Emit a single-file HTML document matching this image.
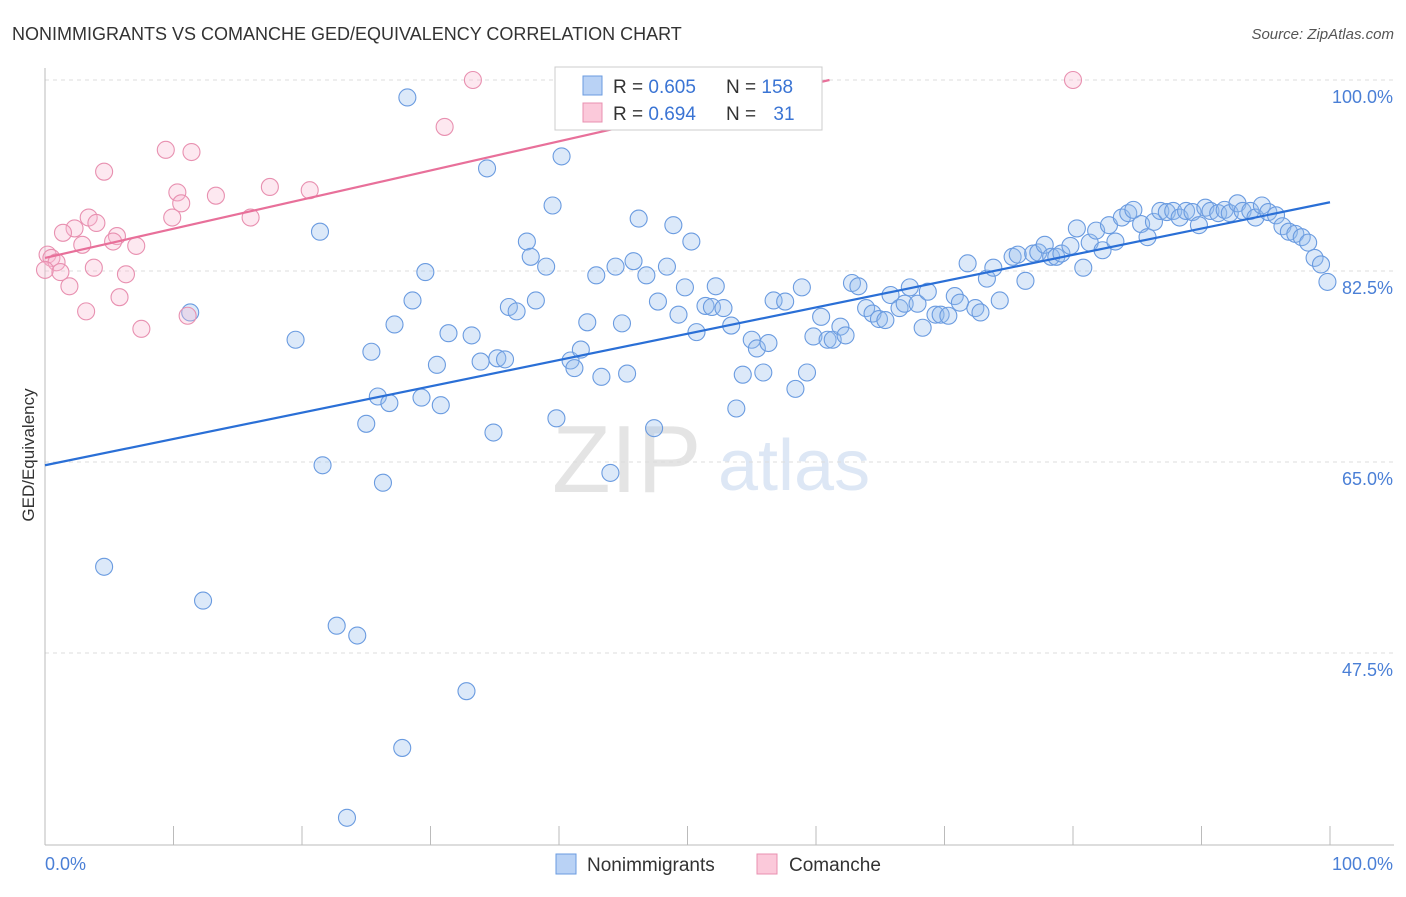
<!DOCTYPE html>
<html><head><meta charset="utf-8"><style>
body{margin:0;background:#fff;font-family:"Liberation Sans",sans-serif;}
svg text{font-family:"Liberation Sans",sans-serif;}
</style></head><body>
<svg id="chart" width="1406" height="892">
<text x="12" y="40" font-size="18" fill="#333">NONIMMIGRANTS VS COMANCHE GED/EQUIVALENCY CORRELATION CHART</text>
<text x="1394" y="39" font-size="15" fill="#555" text-anchor="end" font-style="italic">Source: ZipAtlas.com</text>
<g>
<text x="552" y="492" font-size="96" fill="#e4e4e4" font-family="Liberation Serif">ZIP</text>
<text x="718" y="490" font-size="72" fill="#dde7f5">atlas</text>
</g>
<g id="grid"></g><g id="axes"></g><g id="pts"></g><g id="lines"></g>
<g>
<rect x="555" y="67" width="267" height="63" fill="#fff" stroke="#ccc"/>
<rect x="583" y="76" width="19" height="19" fill="#b9d2f5" stroke="#6a9be0"/>
<rect x="583" y="103" width="19" height="19" fill="#fbc9da" stroke="#e890b0"/>
<text x="613" y="93" font-size="19" fill="#333">R = <tspan fill="#3a74d4">0.605</tspan></text>
<text x="726" y="93" font-size="19" fill="#333">N = <tspan fill="#3a74d4">158</tspan></text>
<text x="613" y="120" font-size="19" fill="#333">R = <tspan fill="#3a74d4">0.694</tspan></text>
<text x="726" y="120" font-size="19" fill="#333">N = <tspan fill="#3a74d4" dx="12">31</tspan></text>
</g>
<g>
<rect x="556" y="854" width="20" height="20" fill="#b9d2f5" stroke="#6a9be0"/>
<text x="587" y="871" font-size="19" fill="#333">Nonimmigrants</text>
<rect x="757" y="854" width="20" height="20" fill="#fbc9da" stroke="#e890b0"/>
<text x="789" y="871" font-size="19" fill="#333">Comanche</text>
</g>
<text transform="translate(34,455) rotate(-90)" font-size="17" fill="#333" text-anchor="middle">GED/Equivalency</text>
</svg>
<script>
const blueX=[28.2,34.4,40.2,39.5,21.4,37.5,37.8,39.0,29.6,42.9,44.4,45.8,46.8,48.4,46.2,48.9,50.3,49.8,52.2,28.6,36.1,36.7,38.2,42.2,44.9,47.7,49.3,50.7,51.4,51.9,52.8,53.4,19.5,25.4,27.2,31.4,33.2,30.5,33.9,35.2,35.8,40.9,41.2,41.7,43.3,45.3,25.9,26.8,29.3,30.8,34.9,39.8,47.4,25.0,21.6,26.3,44.0,53.8,54.3,55.9,55.0,55.4,56.3,56.7,57.6,58.9,58.4,59.3,59.8,60.4,60.9,61.3,61.9,62.3,62.8,63.3,63.9,64.4,64.9,65.4,65.8,66.5,66.9,67.3,67.9,68.3,68.7,69.3,69.7,70.3,70.8,71.2,71.8,72.4,72.8,73.3,73.8,74.3,75.3,75.7,76.3,76.9,77.3,77.8,78.3,78.7,79.1,79.8,80.3,80.8,81.3,81.8,82.3,82.8,83.3,83.8,84.3,84.7,85.3,85.8,86.3,86.8,87.3,87.8,88.3,88.8,89.3,89.8,90.3,90.7,91.3,91.8,92.2,92.8,93.2,93.8,94.2,94.7,95.2,95.8,96.3,96.8,97.3,97.8,98.3,98.8,99.3,99.8,11.3,4.6,12.3,22.7,24.3,32.8,27.8,23.5];
const blueY=[98.4,91.9,93.0,88.5,86.1,85.2,83.8,82.9,82.4,82.1,82.9,83.4,82.1,82.9,87.3,86.7,85.2,81.0,81.1,79.8,79.2,78.8,79.8,77.8,77.7,79.7,78.5,76.9,79.3,79.2,79.1,77.5,76.2,75.1,77.6,76.8,76.6,73.9,74.2,74.5,74.4,74.3,73.6,75.3,72.8,73.1,71.0,70.4,70.9,70.2,67.7,69.0,68.1,68.5,64.7,63.1,64.0,69.9,73.0,73.2,76.2,75.4,75.9,79.8,79.7,81.0,71.7,73.2,76.5,78.3,76.2,76.2,77.4,76.6,81.4,81.1,79.1,78.6,78.1,78.0,80.3,79.1,79.5,81.0,79.5,77.3,80.6,78.5,78.5,78.4,80.2,79.6,83.2,79.1,78.7,81.8,82.8,79.8,83.8,84.0,81.6,84.1,84.2,84.9,83.8,83.8,84.1,84.8,86.4,82.8,85.1,86.2,84.4,86.7,85.2,87.4,87.8,88.1,86.8,85.6,87.0,88.0,87.9,88.0,87.4,88.0,87.9,86.7,88.3,88.0,87.8,88.1,87.8,88.7,88.0,88.0,87.4,88.5,87.9,87.6,86.6,86.1,85.9,85.6,85.1,83.7,83.1,81.5,78.7,55.4,52.3,50.0,49.1,44.0,38.8,32.4];
const pinkX=[33.3,80.0,31.1,9.4,11.4,4.6,10.3,10.6,17.5,13.3,20.6,9.9,16.0,3.4,4.0,2.3,1.4,5.6,2.9,5.3,7.1,0.2,0.5,0.9,0,1.2,3.8,6.3,1.9,5.8,3.2,11.1,7.5];
const pinkY=[100,100,95.7,93.6,93.4,91.6,89.7,88.7,90.2,89.4,89.9,87.4,87.4,87.4,86.9,86.4,86.0,85.7,84.9,85.2,84.8,84.0,83.7,83.3,82.6,82.4,82.8,82.2,81.1,80.1,78.8,78.4,77.2];
const blueLine=[64.7,88.8]; // value at x=0 and x=100
const pinkLine=[83.7,110.4];
const yTicks=[100,82.5,65,47.5];
const yTickLabels=["100.0%","82.5%","65.0%","47.5%"];
const xTickCount=10;
const X=v=>45+v*12.85, Y=v=>80+(100-v)*10.914;
const NS="http://www.w3.org/2000/svg";
function mk(tag,attrs,parent){const e=document.createElementNS(NS,tag);for(const k in attrs)e.setAttribute(k,attrs[k]);document.getElementById(parent).appendChild(e);return e;}
yTicks.forEach((t,i)=>{
 const g=mk('line',{x1:45,x2:1394,y1:Y(t),y2:Y(t),stroke:'#ddd','stroke-dasharray':'4,4'},'grid');
 
 
 const tx=mk('text',{x:1393,y:Y(t)+23,'font-size':18,fill:'#4a7fd6','text-anchor':'end'},'axes');
 tx.textContent=yTickLabels[i];
 
 
});
const ax=mk('line',{x1:45,x2:1394,y1:845,y2:845,stroke:'#bbb'},'axes');


const ay=mk('line',{x1:45,x2:45,y1:68,y2:845,stroke:'#bbb'},'axes');


for(let i=1;i<=xTickCount;i++){const l=mk('line',{x1:X(i*10),x2:X(i*10),y1:826,y2:845,stroke:'#bbb'},'axes');
 
 }
[["0.0%",45,'start'],["100.0%",1393,'end']].forEach(a=>{const t=mk('text',{x:a[1],y:870,'font-size':18,fill:'#4a7fd6','text-anchor':a[2]},'axes');t.textContent=a[0];
 
 });
blueX.forEach((v,i)=>{const c=mk('circle',{cx:X(v),cy:Y(blueY[i]),r:8.5,fill:'rgba(150,188,238,0.33)',stroke:'#6a9be0','stroke-width':1.1},'pts');
 
 });
pinkX.forEach((v,i)=>{const c=mk('circle',{cx:X(v),cy:Y(pinkY[i]),r:8.5,fill:'rgba(248,185,208,0.33)',stroke:'#e890b0','stroke-width':1.1},'pts');
 
 });
const bl=mk('line',{x1:X(0),y1:Y(blueLine[0]),x2:X(100),y2:Y(blueLine[1]),stroke:'#2a6fd6','stroke-width':2.2},'lines');


const pxEnd=(100-pinkLine[0])/(pinkLine[1]-pinkLine[0])*100;
const pl=mk('line',{x1:X(0),y1:Y(pinkLine[0]),x2:X(pxEnd),y2:Y(100),stroke:'#e8709a','stroke-width':2.2},'lines');


</script>
</body></html>
